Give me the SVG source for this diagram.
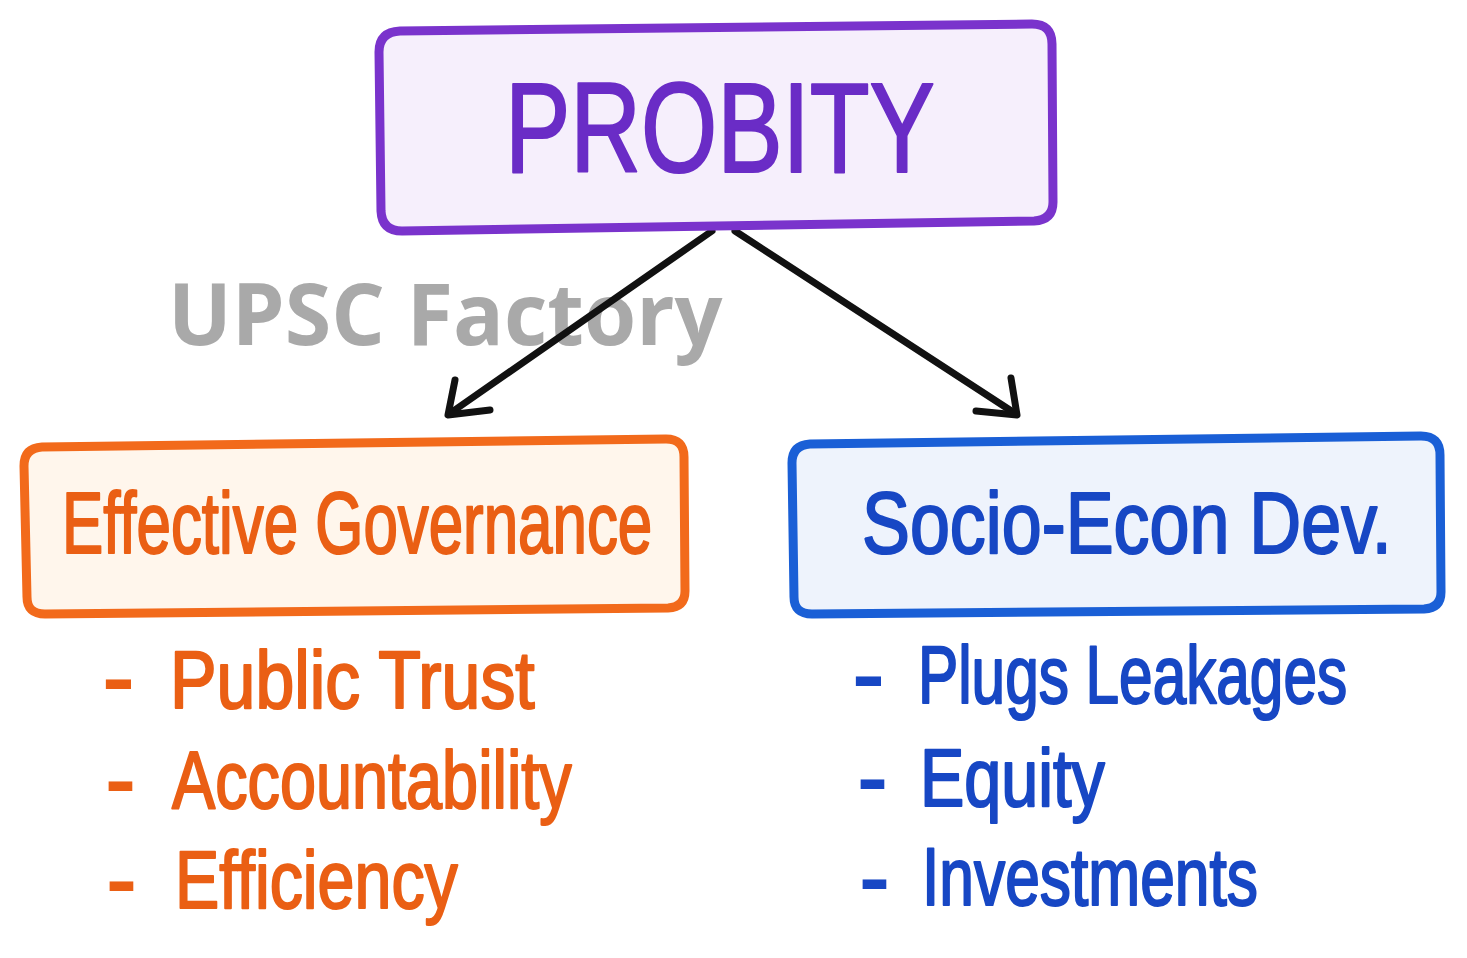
<svg xmlns="http://www.w3.org/2000/svg" width="1467" height="958" viewBox="0 0 1467 958">
<style>
.hand{font-family:"Liberation Sans","Noto Sans",sans-serif;font-weight:400;stroke-width:2.2;stroke-linejoin:round;}
.dash{font-family:"Liberation Sans","Noto Sans",sans-serif;font-weight:700;}
.purple{fill:#6a2cc6;stroke:#6a2cc6;}
.orange{fill:#ea5f14;stroke:#ea5f14;}
.blue{fill:#1747c4;stroke:#1747c4;}
.dash.orange,.dash.blue{stroke:none;}
.conn{fill:none;stroke:#111;stroke-width:7;stroke-linecap:round;stroke-linejoin:round;}
</style>
<rect width="1467" height="958" fill="#ffffff"/>
<g id="watermark">
<text transform="translate(168,345) scale(0.9,1)" x="0" y="0" font-family="'Open Sans','DejaVu Sans',sans-serif" font-weight="700" font-size="86" fill="#a9a9a9" textLength="616" lengthAdjust="spacingAndGlyphs">UPSC Factory</text>
</g>
<g id="connectors">
<path class="conn" d="M712,231 L449,414"/>
<path class="conn" d="M455,380 L448,415 L490,410"/>
<path class="conn" d="M735,231 L1016,414"/>
<path class="conn" d="M1011,378 L1017,415 L976,411"/>
</g>
<g id="probity">
<path d="M400,31 L1032,24 Q1052,24 1052,44 L1053,202 Q1053,220 1034,221 L402,231 Q382,231 381,211 L379,52 Q379,32 400,31 Z" fill="#f6effc" stroke="#7a33cc" stroke-width="9"/>
<text class="hand purple" transform="translate(505,172) scale(0.74,1)" x="0" y="0" font-size="128" textLength="581" lengthAdjust="spacingAndGlyphs">PROBITY</text>
</g>
<g id="effective-governance">
<path d="M42,447 L666,439 Q684,439 684,457 L685,591 Q685,607 668,608 L45,614 Q27,614 27,597 L24,466 Q24,448 42,447 Z" fill="#fff6ec" stroke="#f26a1b" stroke-width="9"/>
<text class="hand orange" transform="translate(62,553) scale(0.68,1)" x="0" y="0" font-size="88" textLength="868" lengthAdjust="spacingAndGlyphs">Effective Governance</text>
</g>
<g id="socio-econ-dev">
<path d="M810,444 L1421,436 Q1440,436 1440,455 L1441,592 Q1441,608 1424,609 L812,614 Q794,614 794,597 L792,463 Q792,445 810,444 Z" fill="#eef3fc" stroke="#1a5fd6" stroke-width="9"/>
<text class="hand blue" transform="translate(862,553) scale(0.76,1)" x="0" y="0" font-size="88" textLength="697" lengthAdjust="spacingAndGlyphs">Socio-Econ Dev.</text>
</g>
<g id="governance-points">
<text class="dash orange" x="102" y="705" font-size="80" textLength="33" lengthAdjust="spacingAndGlyphs">-</text>
<text class="hand orange" transform="translate(170,708) scale(0.7,1)" x="0" y="0" font-size="82" textLength="521" lengthAdjust="spacingAndGlyphs">Public Trust</text>
<text class="dash orange" x="105" y="807" font-size="80" textLength="31" lengthAdjust="spacingAndGlyphs">-</text>
<text class="hand orange" transform="translate(172,808) scale(0.7,1)" x="0" y="0" font-size="82" textLength="571" lengthAdjust="spacingAndGlyphs">Accountability</text>
<text class="dash orange" x="106" y="907" font-size="80" textLength="31" lengthAdjust="spacingAndGlyphs">-</text>
<text class="hand orange" transform="translate(175,908) scale(0.7,1)" x="0" y="0" font-size="82" textLength="404" lengthAdjust="spacingAndGlyphs">Efficiency</text>
</g>
<g id="development-points">
<text class="dash blue" x="852" y="702" font-size="80" textLength="33" lengthAdjust="spacingAndGlyphs">-</text>
<text class="hand blue" transform="translate(918,703) scale(0.7,1)" x="0" y="0" font-size="82" textLength="613" lengthAdjust="spacingAndGlyphs">Plugs Leakages</text>
<text class="dash blue" x="857" y="805" font-size="80" textLength="31" lengthAdjust="spacingAndGlyphs">-</text>
<text class="hand blue" transform="translate(920,806) scale(0.7,1)" x="0" y="0" font-size="82" textLength="264" lengthAdjust="spacingAndGlyphs">Equity</text>
<text class="dash blue" x="859" y="905" font-size="80" textLength="31" lengthAdjust="spacingAndGlyphs">-</text>
<text class="hand blue" transform="translate(922,905) scale(0.7,1)" x="0" y="0" font-size="82" textLength="480" lengthAdjust="spacingAndGlyphs">Investments</text>
</g>
</svg>
